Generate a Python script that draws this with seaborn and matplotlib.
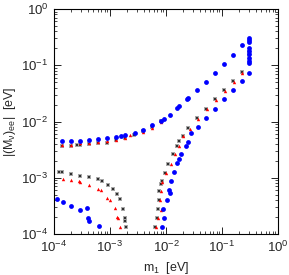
import pandas as pd
import matplotlib
matplotlib.use("Agg")
import matplotlib.pyplot as plt
import seaborn as sns

# blue circles
blue_m1 = [1.41e-4, 2.04e-4, 2.91e-4, 4.27e-4, 6.18e-4, 8.95e-4, 1.28e-3, 1.55e-3, 1.88e-3,
           2.76e-3, 3.93e-3, 5.62e-3, 8.24e-3, 9.21e-3, 1.18e-2, 1.60e-2, 1.73e-2, 2.37e-2,
           2.52e-2, 3.53e-2, 5.18e-2, 7.50e-2, 0.109, 0.157, 0.228,
           0.303, 0.303, 0.303, 0.303, 0.303, 0.303, 0.303, 0.303, 0.303,
           8.38e-3, 9.33e-3, 9.02e-3, 1.055e-2, 1.13e-2, 1.18e-2, 1.23e-2, 1.39e-2, 1.55e-2,
           1.73e-2, 1.83e-2, 2.28e-2, 2.50e-2, 2.85e-2, 3.78e-2, 5.18e-2, 7.50e-2, 0.109,
           0.155, 0.225, 0.303,
           1.117e-4, 1.42e-4, 2.05e-4, 2.91e-4, 3.93e-4, 3.99e-4, 4.27e-4, 6.44e-4]
blue_mee = [4.45e-3, 4.45e-3, 4.58e-3, 4.71e-3, 4.97e-3, 5.12e-3, 5.40e-3, 5.56e-3, 5.74e-3,
            6.28e-3, 7.20e-3, 8.59e-3, 1.04e-2, 1.10e-2, 1.33e-2, 1.71e-2, 1.85e-2, 2.47e-2,
            2.63e-2, 3.58e-2, 5.12e-2, 7.41e-2, 0.107, 0.155, 0.225,
            0.310, 0.279, 0.258, 0.201, 0.178, 0.157, 0.133, 0.118, 0.109,
            1.33e-4, 1.95e-4, 2.83e-4, 4.05e-4, 6.11e-4, 5.46e-4, 8.66e-4, 1.25e-3, 1.80e-3,
            2.16e-3, 2.63e-3, 3.73e-3, 4.39e-3, 6.36e-3, 7.91e-3, 1.15e-2, 1.69e-2, 2.47e-2,
            3.58e-2, 5.18e-2, 7.29e-2,
            4.13e-4, 3.73e-4, 3.16e-4, 2.68e-4, 2.85e-4, 1.95e-4, 1.71e-4, 1.36e-4]

# red triangles
red_m1 = [1.41e-4, 2.04e-4, 2.91e-4, 4.27e-4, 6.18e-4, 8.95e-4, 1.28e-3, 1.88e-3, 2.28e-3,
          3.93e-3, 5.62e-3, 8.24e-3,
          6.55e-3, 7.29e-3, 8.14e-3, 7.72e-3, 8.04e-3, 8.59e-3, 1.00e-2, 1.21e-2, 1.43e-2,
          1.73e-2, 2.04e-2, 2.63e-2, 3.80e-2, 5.40e-2, 7.81e-2, 0.113, 0.164, 0.232,
          0.303, 0.303,
          1.42e-4, 2.01e-4, 2.74e-4, 2.97e-4, 4.25e-4, 6.18e-4, 6.90e-4, 8.84e-4, 9.80e-4,
          1.24e-3, 1.32e-3, 1.39e-3, 1.48e-3]
red_mee = [3.89e-3, 3.89e-3, 4.09e-3, 4.09e-3, 4.34e-3, 4.45e-3, 4.71e-3, 5.12e-3, 5.69e-3,
           6.49e-3, 7.81e-3, 9.60e-3,
           1.33e-4, 1.95e-4, 2.65e-4, 4.05e-4, 5.86e-4, 8.24e-4, 1.23e-3, 1.78e-3, 2.65e-3,
           3.73e-3, 5.46e-3, 7.35e-3, 1.11e-2, 1.64e-2, 2.37e-2, 3.43e-2, 4.97e-2, 7.20e-2,
           0.185, 0.139,
           9.48e-4, 9.10e-4, 8.73e-4, 8.41e-4, 7.50e-4, 6.28e-4, 5.98e-4, 4.45e-4, 4.05e-4,
           2.88e-4, 1.97e-4, 1.95e-4, 1.34e-4]

# black boxed points
black_m1 = [1.41e-4, 2.04e-4, 2.61e-4, 2.91e-4, 4.27e-4, 6.18e-4, 8.95e-4, 1.28e-3, 1.88e-3,
            2.68e-3, 3.93e-3, 5.62e-3, 8.24e-3,
            6.44e-3, 6.82e-3, 7.20e-3, 7.41e-3, 7.59e-3, 8.24e-3, 8.38e-3, 9.48e-3, 1.09e-2,
            1.35e-2, 1.55e-2, 1.69e-2, 1.99e-2, 2.50e-2, 3.62e-2, 5.18e-2, 7.50e-2, 0.109,
            0.155, 0.225, 0.303, 0.303,
            1.23e-4, 1.39e-4, 2.05e-4, 2.91e-4, 4.22e-4, 6.11e-4, 7.20e-4, 9.21e-4, 1.13e-3,
            1.31e-3, 1.48e-3, 1.69e-3, 1.83e-3, 1.88e-3, 1.91e-3]
black_mee = [3.73e-3, 3.73e-3, 3.77e-3, 3.84e-3, 4.00e-3, 4.09e-3, 4.22e-3, 4.71e-3, 5.07e-3,
             5.86e-3, 6.71e-3, 8.14e-3, 1.01e-2,
             1.33e-4, 1.95e-4, 2.79e-4, 4.05e-4, 5.86e-4, 7.72e-4, 8.59e-4, 1.23e-3, 1.78e-3,
             2.65e-3, 3.73e-3, 4.45e-3, 5.46e-3, 7.59e-3, 1.15e-2, 1.69e-2, 2.47e-2, 3.58e-2,
             5.18e-2, 7.59e-2, 0.171, 0.151,
             1.25e-3, 1.25e-3, 1.16e-3, 1.09e-3, 1.02e-3, 9.40e-4, 8.84e-4, 7.50e-4, 6.23e-4,
             5.18e-4, 4.13e-4, 2.79e-4, 1.95e-4, 1.67e-4, 1.33e-4]

sns.set_style("ticks")
plt.rcParams['font.family'] = ['Liberation Sans', 'DejaVu Sans']
plt.rcParams['mathtext.fontset'] = 'custom'
plt.rcParams['mathtext.rm'] = 'Liberation Sans'
plt.rcParams['mathtext.it'] = 'Liberation Sans'

fig = plt.figure(figsize=(2.89, 2.75), dpi=100)
ax = fig.add_axes([54 / 289, 41 / 275, 224 / 289, 225 / 275])

# gray box with dark centre
sns.scatterplot(x=black_m1, y=black_mee, ax=ax, marker='s', s=12, color='#a8a8a8',
                linewidth=0, zorder=2)
sns.scatterplot(x=black_m1, y=black_mee, ax=ax, marker='s', s=3, color='#303030',
                linewidth=0, zorder=2.5)
sns.scatterplot(x=red_m1, y=red_mee, ax=ax, marker='^', s=6, color='red',
                linewidth=0, zorder=3)
sns.scatterplot(x=blue_m1, y=blue_mee, ax=ax, marker='o', s=12, color='blue',
                linewidth=0, zorder=4)

ax.set_xscale('log')
ax.set_yscale('log')
ax.set_xlim(1e-4, 1)
ax.set_ylim(1e-4, 1)
ax.tick_params(which='both', direction='in', top=True, right=True, labelsize=9.5,
               color='black', pad=4)
ax.tick_params(which='major', length=5, width=0.6)
ax.tick_params(which='minor', length=2.5, width=0.5)
for sp in ax.spines.values():
    sp.set_linewidth(0.8)
    sp.set_color('black')

ax.set_xlabel(r'm$_1$  [eV]', fontsize=9)
ax.set_ylabel(r'|(M$_\nu$)$_{ee}$|  [eV]', fontsize=9, labelpad=2)

fig.savefig('out.png', dpi=100)
